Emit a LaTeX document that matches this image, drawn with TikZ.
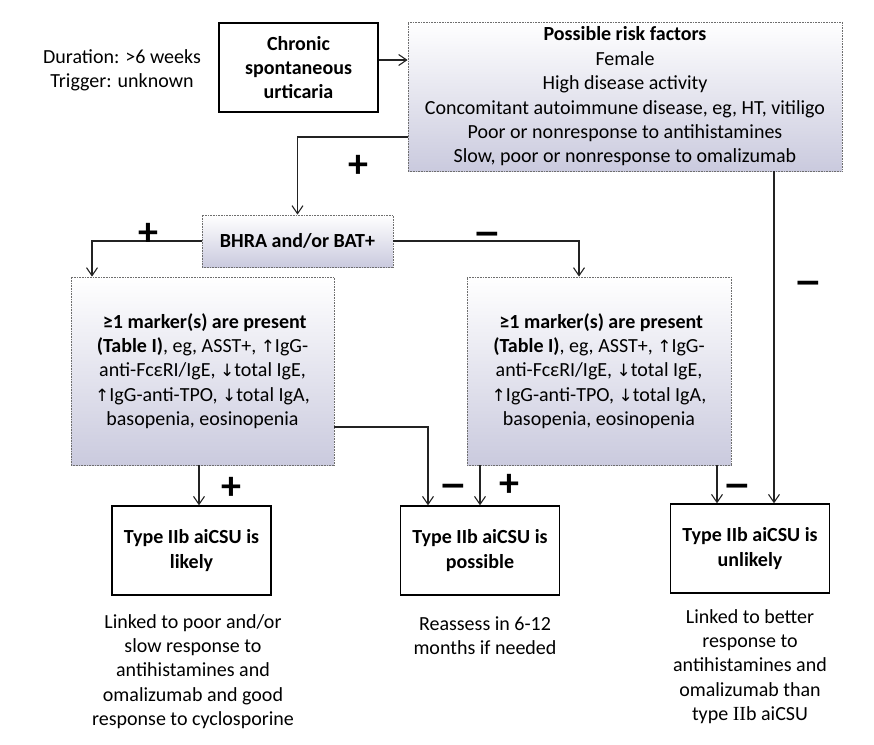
\documentclass[tikz,border=0pt]{standalone}
\usepackage{fontspec}
\setmainfont{Carlito}
\newfontfamily\symf{DejaVu Sans}
\newfontfamily\serf{Liberation Serif}
\usetikzlibrary{arrows.meta,calc}
\definecolor{lav}{RGB}{202,202,222}
\definecolor{edgegray}{RGB}{110,110,110}
\definecolor{conncol}{RGB}{35,35,35}
\newcommand\myup{{\symf\fontsize{17}{20}\selectfont ↑}}
\newcommand\mydn{{\symf\fontsize{17}{20}\selectfont ↓}}
\begin{document}
\begin{tikzpicture}[x=1pt,y=-1pt,
  every node/.style={font=\fontsize{20}{24.4}\selectfont, inner sep=0pt},
  gbox/.style={draw=edgegray, dash pattern=on 0.8pt off 0.8pt, line width=0.8pt,
               top color=white, bottom color=lav, align=center},
  wbox/.style={draw=black, line width=1.4pt, fill=white, align=center,
               minimum width=159pt, minimum height=89pt,
               font=\fontsize{20}{24.4}\selectfont\bfseries},
  conn/.style={draw=conncol, line width=1.1pt},
  arr/.style={conn, -{Straight Barb[length=8pt,width=11pt,line width=1.1pt]}},
  plussign/.style={font=\fontsize{40}{40}\selectfont\bfseries},
  minussign/.style={font=\symf\fontsize{33}{33}\selectfont\bfseries},
  plain/.style={align=center}
]
\useasboundingbox (0,0) rectangle (874,744);

% texts and boxes
\node[plain] (dur) at (122,70) {Duration: >6 weeks\\Trigger: unknown};
\node[wbox] (csu) at (298.5,67.5) {Chronic\\spontaneous\\urticaria};
\node[gbox, minimum width=434pt, minimum height=149pt] (risk) at (625,96.5)
  {\textbf{Possible risk factors}\\Female\\High disease activity\\Concomitant autoimmune disease, eg, HT, vitiligo\\Poor or nonresponse to antihistamines\\Slow, poor or nonresponse to omalizumab};
\node[gbox, minimum width=191pt, minimum height=52pt,
      font=\fontsize{20}{24.4}\selectfont\bfseries] (bhra) at (297.5,241) {BHRA and/or BAT+};
\node[gbox, minimum width=263pt, minimum height=188pt] (mL) at (202.5,371)
  {\textbf{ ≥1 marker(s) are present}\\\textbf{(Table I)}, eg, ASST+, \myup IgG-\\anti-FcεRI/IgE, \mydn total IgE,\\\myup IgG-anti-TPO, \mydn total IgA,\\basopenia, eosinopenia};
\node[gbox, minimum width=264pt, minimum height=188pt] (mR) at (599,371)
  {\textbf{ ≥1 marker(s) are present}\\\textbf{(Table I)}, eg, ASST+, \myup IgG-\\anti-FcεRI/IgE, \mydn total IgE,\\\myup IgG-anti-TPO, \mydn total IgA,\\basopenia, eosinopenia};
\node[wbox] (likely) at (191.5,550.5) {Type IIb aiCSU is\\likely};
\node[wbox] (possible) at (480,550.5) {Type IIb aiCSU is\\possible};
\node[wbox] (unlikely) at (750,548.5) {Type IIb aiCSU is\\unlikely};
\node[plain] (tL) at (193,671.5) {Linked to poor and/or\\slow response to\\antihistamines and\\omalizumab and good\\response to cyclosporine};
\node[plain] (tP) at (485,635.5) {Reassess in 6-12\\months if needed};
\node[plain] (tU) at (750,666.5) {Linked to better\\response to\\antihistamines and\\omalizumab than\\type {\serf II}b aiCSU};

% connectors
\coordinate (c1) at ([yshift=7.5pt]csu.east);
\draw[arr] (c1) -- (c1 -| risk.west);
\draw[arr] ([yshift=-40.5pt]risk.west) -| (bhra.north);
\draw[arr] (bhra.west) -| ([xshift=-110.5pt]mL.north);
\draw[arr] (bhra.east) -| ([xshift=-20pt]mR.north);
\coordinate (a1) at ([xshift=-3.5pt]mL.south);
\draw[arr] (a1) -- (a1 |- likely.north);
\coordinate (a2) at ([yshift=-56pt]mL.east);
\draw[arr] (a2) -| ([xshift=-52pt]possible.north);
\coordinate (a3) at ([xshift=-119pt]mR.south);
\draw[arr] (a3) -- (a3 |- possible.north);
\coordinate (a4) at ([xshift=118pt]mR.south);
\draw[arr] (a4) -- (a4 |- unlikely.north);
\coordinate (a5) at ([xshift=149pt]risk.south);
\draw[arr] (a5) -- (a5 |- unlikely.north);

% signs
\node[plussign] (s1) at (358,166) {+};
\node[plussign] (s2) at (148,234) {+};
\node[minussign] (s3) at (487,238) {−};
\node[minussign] (s4) at (808,287) {−};
\node[plussign] (s5) at (231,488) {+};
\node[minussign] (s6) at (453,490) {−};
\node[plussign] (s7) at (509,485.5) {+};
\node[minussign] (s8) at (737,490) {−};
\end{tikzpicture}
\end{document}
